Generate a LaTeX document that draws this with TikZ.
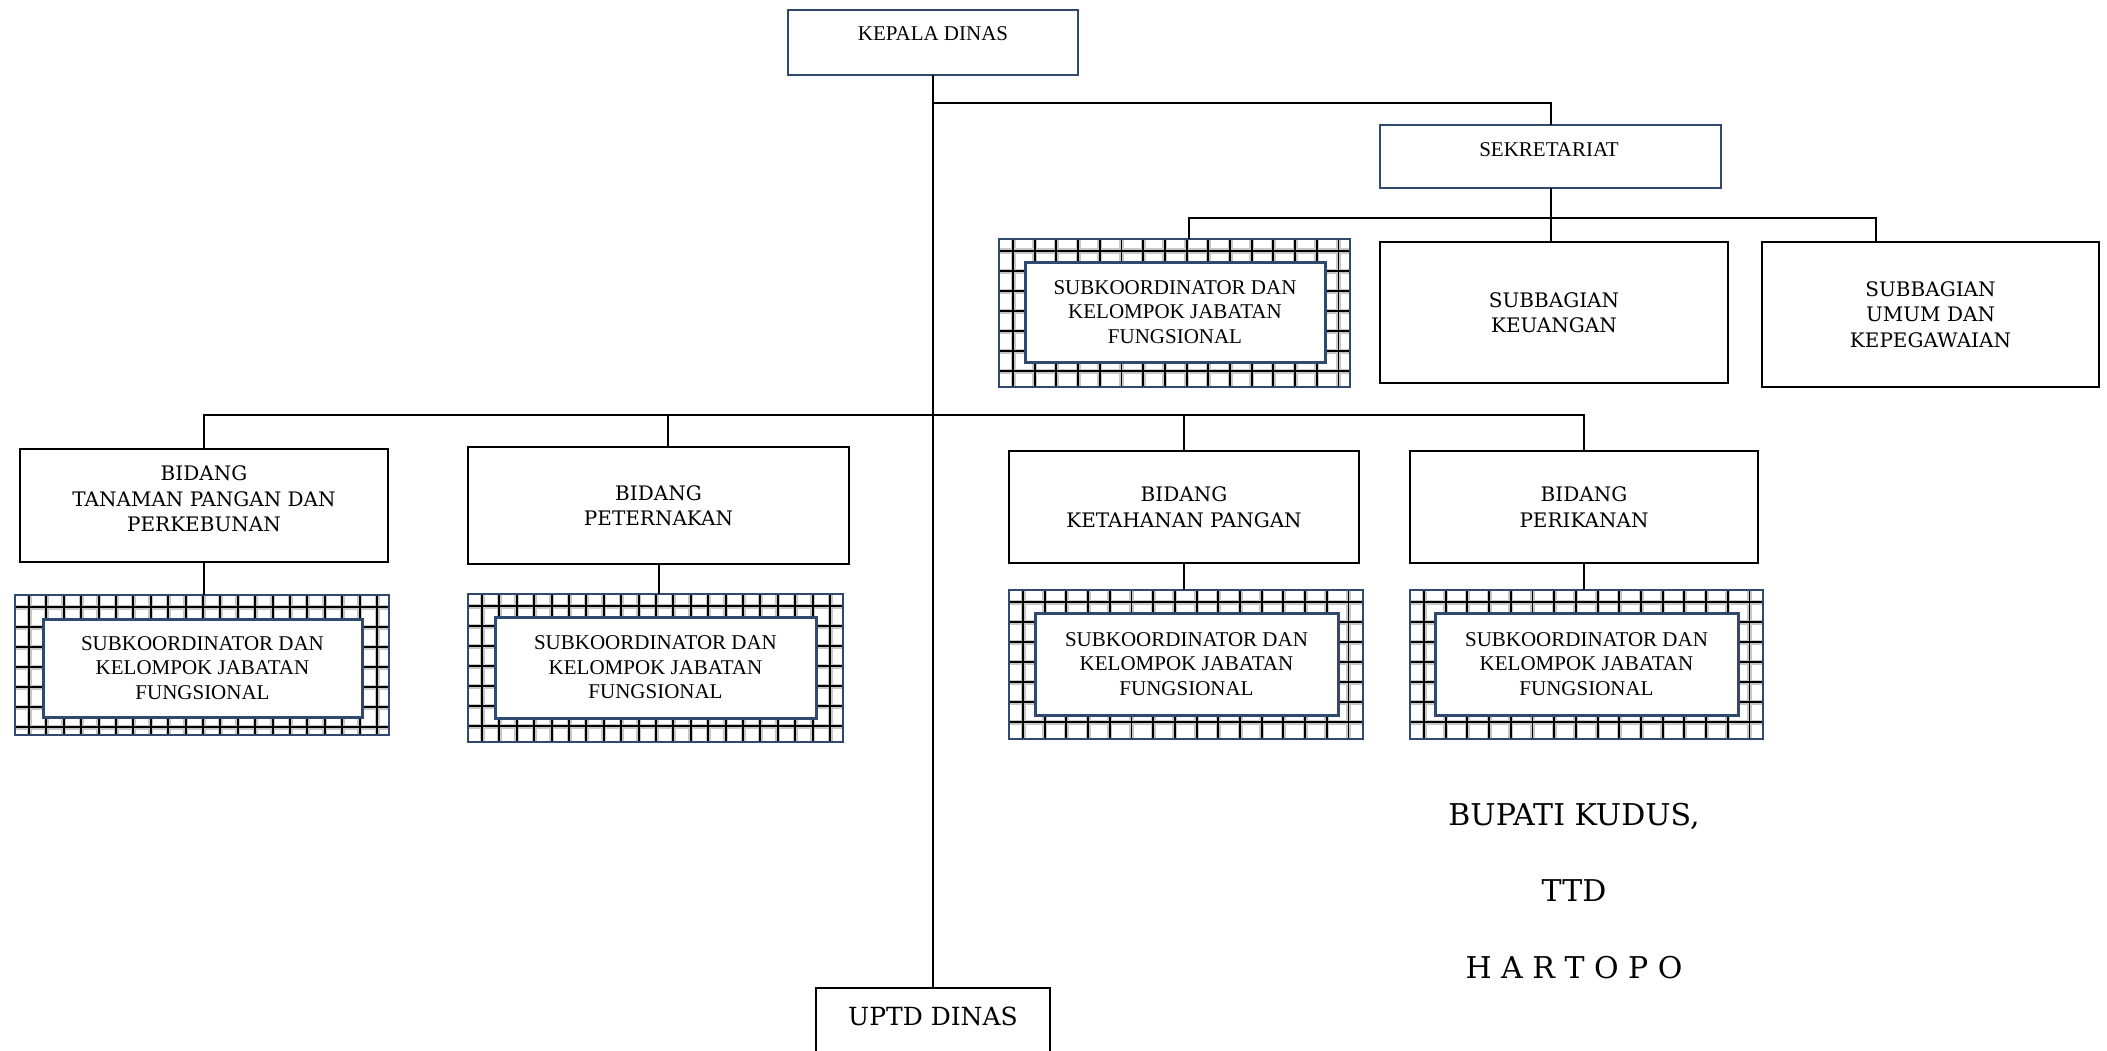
\documentclass[tikz,border=0pt]{standalone}
\usepackage{fontspec}
\setmainfont{Liberation Serif}
\newfontfamily\bkfont{DejaVu Serif}
\usetikzlibrary{calc}
\definecolor{boxblue}{RGB}{47,74,110}
\tikzset{
  conn/.style={line width=2pt, draw=black},
  bluebox/.style={draw=boxblue, line width=2.5pt, fill=white, inner sep=0pt, outer sep=0pt},
  blackbox/.style={draw=black, line width=2pt, fill=white, inner sep=0pt, outer sep=0pt, align=center, font=\bkfont\fontsize{20}{25.5}\selectfont},
  innerbox/.style={draw=boxblue, line width=3pt, fill=white, inner sep=0pt, outer sep=0pt, align=center, font=\fontsize{21}{24.5}\selectfont},
  tmtext/.style={inner sep=0pt, font=\fontsize{21}{24.5}\selectfont},
  bktext/.style={inner sep=0pt, font=\bkfont\fontsize{25}{30}\selectfont},
  signtext/.style={inner sep=0pt, font=\bkfont\fontsize{30}{36}\selectfont},
  gridhalo/.style={line width=5pt, draw=black!22},
  gridline/.style={line width=1.9pt, draw=black}
}
\def\hstep{21.7}
\newcommand\mybox[7]{%
  \node[#1, minimum width={(#5-#3)*1pt}, minimum height={(#6-#4)*1pt}] (#2) at ({(#3+#5)/2},{(#4+#6)/2}) {#7};}
\newcommand\hatchbox[9]{%
  \node[inner sep=0pt, outer sep=0pt, minimum width={(#4-#2)*1pt}, minimum height={(#5-#3)*1pt}] (#1o) at ({(#2+#4)/2},{(#3+#5)/2}) {};
  \fill[white] (#2,#3) rectangle (#4,#5);
  \begin{scope}
    \clip (#2,#3) rectangle (#4,#5);
    \foreach \k in {0,...,23} {\draw[gridhalo] ({#2+14+\k*\hstep},#3) -- ({#2+14+\k*\hstep},#5);}
    \foreach \k in {0,...,8} {\draw[gridhalo] (#2,{#3+12+\k*20}) -- (#4,{#3+12+\k*20});}
    \foreach \k in {0,...,23} {\draw[gridline] ({#2+14+\k*\hstep},#3) -- ({#2+14+\k*\hstep},#5);}
    \foreach \k in {0,...,8} {\draw[gridline] (#2,{#3+12+\k*20}) -- (#4,{#3+12+\k*20});}
  \end{scope}
  \draw[line width=2.5pt, draw=boxblue] (#1o.north west) rectangle (#1o.south east);
  \node[innerbox, minimum width={(#8-#6)*1pt}, minimum height={(#9-#7)*1pt}] (#1i) at ({(#6+#8)/2},{(#7+#9)/2}) {SUBKOORDINATOR DAN\\KELOMPOK JABATAN\\FUNGSIONAL};
}
\begin{document}
\begin{tikzpicture}[x=1pt,y=-1pt]
\useasboundingbox (0,0) rectangle (2107,1051);
\fill[white] (0,0) rectangle (2107,1051);

% coordinates for buses
\coordinate (j1) at (933,103);
\coordinate (sbL) at (1189,218);
\coordinate (sbR) at (1876,218);
\coordinate (bbus) at (933,415);
\coordinate (p2) at (668,415);

% connectors (drawn first, boxes on top)
\mybox{blackbox}{uptd}{816}{988}{1050}{1075}{}
\mybox{bluebox}{kd}{788}{10}{1078}{75}{}
\draw[conn] (kd.south) -- (uptd.north);

\mybox{bluebox}{sek}{1380}{125}{1721}{188}{}
\draw[conn] (j1) -| (sek.north);

\mybox{blackbox}{keu}{1380}{242}{1728}{383}{SUBBAGIAN\\KEUANGAN}
\mybox{blackbox}{umum}{1762}{242}{2099}{387}{SUBBAGIAN\\UMUM DAN\\KEPEGAWAIAN}
\def\hstep{21.7}
\hatchbox{hs}{999}{239}{1350}{387}{1025}{262}{1325}{362}

\draw[conn] (sek.south) -- (sek.south |- keu.north);
\draw[conn] (sbL |- hso.north) -- (sbL) -- (sbR) -- (sbR |- umum.north);

\mybox{blackbox}{bid1}{20}{449}{388}{562}{BIDANG\\TANAMAN PANGAN DAN\\PERKEBUNAN\\[-12pt]}
\mybox{blackbox}{bid2}{468}{447}{849}{564}{BIDANG\\PETERNAKAN}
\mybox{blackbox}{bid3}{1009}{451}{1359}{563}{BIDANG\\KETAHANAN PANGAN}
\mybox{blackbox}{bid4}{1410}{451}{1758}{563}{BIDANG\\PERIKANAN}

\draw[conn] (bid1.north) -- (bid1.north |- bbus) -- (bid4.north |- bbus) -- (bid4.north);
\draw[conn] (bid3.north |- bbus) -- (bid3.north);
\draw[conn] (p2) -- (p2 |- bid2.north);

\def\hstep{17.4}
\hatchbox{ha}{15}{595}{389}{735}{43}{619}{362}{717}
\hatchbox{hb}{468}{594}{843}{742}{495}{617}{816}{718}
\def\hstep{21.7}
\hatchbox{hc}{1009}{590}{1363}{739}{1035}{613}{1338}{715}
\hatchbox{hd}{1410}{590}{1763}{739}{1435}{613}{1738}{715}

\draw[conn] (bid1.south) -- (bid1.south |- hao.north);
\draw[conn] (bid2.south) -- (bid2.south |- hbo.north);
\draw[conn] (bid3.south) -- (bid3.south |- hco.north);
\draw[conn] (bid4.south) -- (bid4.south |- hdo.north);

% texts
\node[tmtext] (kdt) at (933,34) {KEPALA DINAS};
\node[tmtext] (sekt) at (1549,150) {SEKRETARIAT};
\node[bktext] (uptdt) at (933,1016) {UPTD DINAS};

\node[signtext] (s1) at (1574,816) {BUPATI KUDUS,};
\node[signtext] (s2) at (1574,891) {TTD};
\node[signtext] (s3) at (1574,968) {H A R T O P O};
\end{tikzpicture}
\end{document}
